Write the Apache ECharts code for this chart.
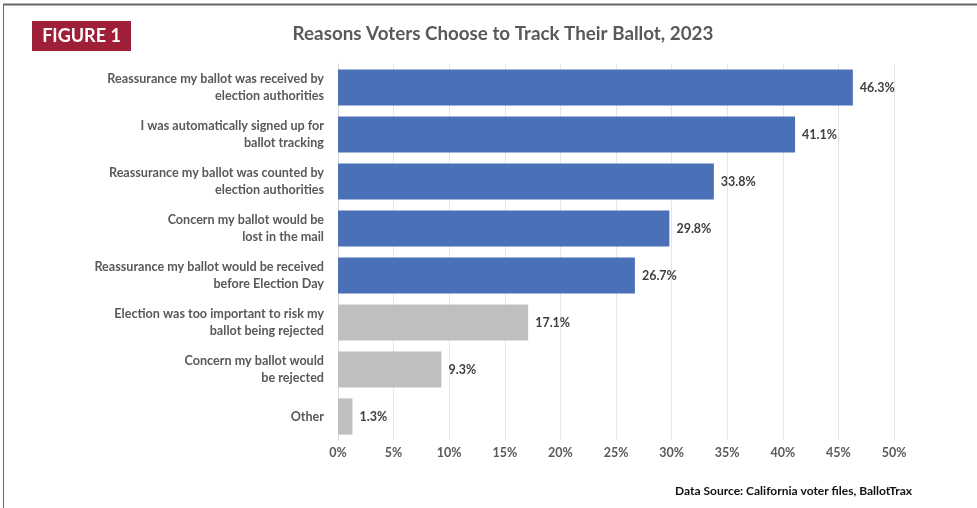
<!DOCTYPE html>
<html>
<head>
<meta charset="utf-8">
<script src="https://cdn.jsdelivr.net/npm/echarts@6/dist/echarts.min.js"></script>
<style>
  html, body { margin: 0; padding: 0; background: #fff; }
  #chart { width: 977px; height: 508px; }
</style>
</head>
<body>
<div id="chart"></div>
<script>
  // 类别（从上到下）
  var categories = [
    'Reassurance my ballot was received by\nelection authorities',
    'I was automatically signed up for\nballot tracking',
    'Reassurance my ballot was counted by\nelection authorities',
    'Concern my ballot would be\nlost in the mail',
    'Reassurance my ballot would be received\nbefore Election Day',
    'Election was too important to risk my\nballot being rejected',
    'Concern my ballot would\nbe rejected',
    'Other'
  ];
  var values = [46.3, 41.1, 33.8, 29.8, 26.7, 17.1, 9.3, 1.3];
  // 前五项蓝色，其余灰色
  var highlighted = [true, true, true, true, true, false, false, false];

  var blue = '#4A71B7', grey = '#BFBFBF';
  var font = 'Lato, "Open Sans", sans-serif';

  var seriesData = values.map(function(v, i) {
    return { value: v, itemStyle: { color: highlighted[i] ? blue : grey } };
  });

  var chart = echarts.init(document.getElementById('chart'), null, { renderer: 'canvas' });
  var option = {
    backgroundColor: '#fff',
    animation: false,
    graphic: [
      // 外框
      { type: 'line', shape: { x1: 3, y1: 4.5, x2: 977, y2: 4.5 }, style: { stroke: '#666', lineWidth: 2 } },
      { type: 'line', shape: { x1: 3.5, y1: 4, x2: 3.5, y2: 508 }, style: { stroke: '#666', lineWidth: 1 } },
      // FIGURE 1 标签
      { type: 'rect', shape: { x: 32, y: 21, width: 99, height: 30 }, style: { fill: '#9E1F37' } },
      { type: 'text', x: 81.5, y: 36.5, style: { text: 'FIGURE 1', fill: '#fff', font: 'bold 18px ' + font, align: 'center', verticalAlign: 'middle' } },
      // 数据来源
      { type: 'text', right: 65, top: 485, style: { text: 'Data Source: California voter files, BallotTrax', fill: '#111', font: 'bold 12px ' + font } }
    ],
    title: {
      text: 'Reasons Voters Choose to Track Their Ballot, 2023',
      left: 498, top: 19, textAlign: 'center',
      textStyle: { color: '#595959', fontSize: 18.8, fontWeight: 'bold', fontFamily: font }
    },
    grid: { left: 338, right: 83, top: 64, bottom: 68, containLabel: false },
    xAxis: {
      type: 'value', min: 0, max: 50, interval: 5,
      axisLine: { show: false }, axisTick: { show: false },
      splitLine: { lineStyle: { color: '#E6E6E6', width: 1 } },
      axisLabel: { formatter: '{value}%', color: '#595959', fontSize: 12.5, fontFamily: font, fontWeight: 'bold', margin: 6 }
    },
    yAxis: {
      type: 'category', inverse: true, data: categories,
      axisLine: { show: true, lineStyle: { color: '#D9D9D9' } },
      axisTick: { show: false },
      axisLabel: { color: '#595959', fontSize: 12.6, fontFamily: font, fontWeight: 'bold', lineHeight: 17, margin: 14, align: 'right' }
    },
    series: [{
      type: 'bar', data: seriesData, barCategoryGap: '23%',
      label: {
        show: true, position: 'right', distance: 7,
        formatter: function(p) { return p.value.toFixed(1) + '%'; },
        color: '#404040', fontSize: 12.5, fontWeight: 'bold', fontFamily: font
      }
    }]
  };
  chart.setOption(option);
</script>
</body>
</html>
